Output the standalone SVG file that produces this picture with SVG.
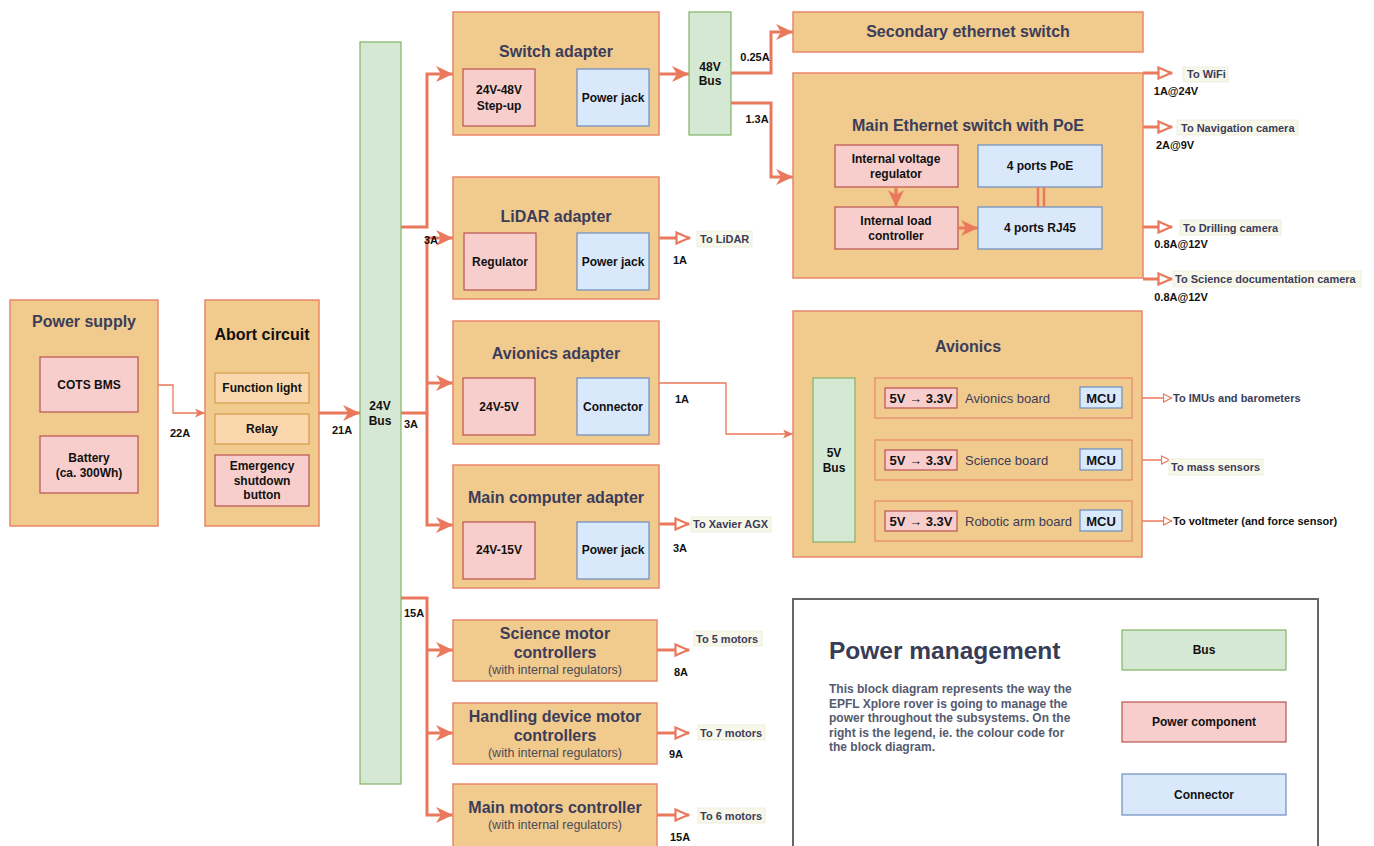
<svg xmlns="http://www.w3.org/2000/svg" width="1374" height="846" viewBox="0 0 1374 846">
<defs>
<style>
text{font-family:"Liberation Sans",Arial,sans-serif;}
.blk{fill:#F1CA8D;stroke:#E9876B;stroke-width:1.5;}
.pink{fill:#F8CECC;stroke:#B85450;stroke-width:1.2;}
.blue{fill:#DAE8FC;stroke:#6C8EBF;stroke-width:1.2;}
.green{fill:#D5E8D4;stroke:#82B366;stroke-width:1.2;}
.lite{fill:#FAD7AC;stroke:#D79B4C;stroke-width:1.2;}
.brd{fill:none;stroke:#E9876B;stroke-width:1.2;}
.t{font-size:16px;font-weight:bold;fill:#3B3D5A;text-anchor:middle;dominant-baseline:central;}
.tb{font-size:16px;font-weight:bold;fill:#111;text-anchor:middle;dominant-baseline:central;}
.c{font-size:12px;font-weight:bold;fill:#111;text-anchor:middle;dominant-baseline:central;}
.v{font-size:13px;font-weight:bold;fill:#111;text-anchor:middle;dominant-baseline:central;}
.s{font-size:12.5px;fill:#4A4A5A;text-anchor:middle;dominant-baseline:central;}
.l{font-size:11px;font-weight:bold;fill:#111;text-anchor:middle;dominant-baseline:central;}
.o{font-size:11px;font-weight:bold;fill:#3B3D5A;dominant-baseline:central;}
.bl{font-size:13px;fill:#3B3D5A;dominant-baseline:central;}
.lb{fill:#F8F8EA;stroke:#E4E4D4;stroke-width:0.6;}
.thick{fill:none;stroke:#E9785C;stroke-width:3;}
.thin{fill:none;stroke:#E9785C;stroke-width:1.3;}
</style>
<marker id="ah" markerUnits="userSpaceOnUse" markerWidth="18" markerHeight="16" refX="17" refY="8" orient="auto"><path d="M0,0 L17,8 L0,16 L5,8 Z" fill="#E9785C"/></marker>
<marker id="as" markerUnits="userSpaceOnUse" markerWidth="10" markerHeight="9" refX="10" refY="4.5" orient="auto"><path d="M0,0 L10,4.5 L0,9 L2.5,4.5 Z" fill="#E9785C"/></marker>
<marker id="ao" markerUnits="userSpaceOnUse" markerWidth="16" markerHeight="14" refX="15" refY="7" orient="auto"><path d="M1.5,1.5 L14,7 L1.5,12.5 Z" fill="#fff" stroke="#E9785C" stroke-width="2.2"/></marker>
<marker id="aos" markerUnits="userSpaceOnUse" markerWidth="10" markerHeight="10" refX="9.5" refY="5" orient="auto"><path d="M1,1 L9,5 L1,9 Z" fill="#fff" stroke="#E9785C" stroke-width="1.2"/></marker>
</defs>
<rect width="1374" height="846" fill="#fff"/>

<g id="connectors">
<path class="thin" d="M40,464 H20 V385 H40" marker-end="url(#as)"/>
<path class="thin" d="M138,385 H173 V413 H205" marker-end="url(#as)"/>
<path class="thick" d="M319,413 H360" marker-end="url(#ah)"/>
<path class="thick" d="M401,227 H427 V74 H453" marker-end="url(#ah)"/>
<path class="thick" d="M401,413 H427 V238 H453" marker-end="url(#ah)"/>
<path class="thick" d="M427,383 H453" marker-end="url(#ah)"/>
<path class="thick" d="M427,413 V525 H453" marker-end="url(#ah)"/>
<path class="thick" d="M401,598 H427 V815 H453" marker-end="url(#ah)"/>
<path class="thick" d="M427,650 H453" marker-end="url(#ah)"/>
<path class="thick" d="M427,733 H453" marker-end="url(#ah)"/>
<path class="thin" d="M535,98 H577" marker-end="url(#as)"/>
<path class="thin" d="M536,262 H577" marker-end="url(#as)"/>
<path class="thin" d="M535,407 H577" marker-end="url(#as)"/>
<path class="thin" d="M535,550 H577" marker-end="url(#as)"/>
<path class="thick" d="M659,74 H689" marker-end="url(#ah)"/>
<path class="thick" d="M731,73 H771 V32 H793" marker-end="url(#ah)"/>
<path class="thick" d="M731,103 H771 V177 H793" marker-end="url(#ah)"/>
<path class="thin" d="M659,383 H726 V434 H793" marker-end="url(#as)"/>
<path class="thick" d="M659,238 H690" marker-end="url(#ao)"/>
<path class="thick" d="M659,524 H689" marker-end="url(#ao)"/>
<path class="thick" d="M657,650 H689" marker-end="url(#ao)"/>
<path class="thick" d="M657,733 H689" marker-end="url(#ao)"/>
<path class="thick" d="M657,815 H689" marker-end="url(#ao)"/>
<path class="thick" d="M1143,73 H1172" marker-end="url(#ao)"/>
<path class="thick" d="M1143,127 H1172" marker-end="url(#ao)"/>
<path class="thick" d="M1143,227 H1172" marker-end="url(#ao)"/>
<path class="thick" d="M1143,279 H1172" marker-end="url(#ao)"/>
<path class="thin" d="M1132,398 H1172" marker-end="url(#aos)"/>
<path class="thin" d="M1132,460 H1170" marker-end="url(#aos)"/>
<path class="thin" d="M1132,521 H1172" marker-end="url(#aos)"/>
<path class="thin" d="M855,427 H864 V398 H875" marker-end="url(#as)"/>
<path class="thin" d="M855,491 H864 V460 H875" marker-end="url(#as)"/>
<path class="thin" d="M864,491 V521 H875" marker-end="url(#as)"/>
</g>

<g id="power-supply">
<rect class="blk" x="10" y="300" width="148" height="226"/>
<text class="t" x="84" y="321">Power supply</text>
<rect class="pink" x="40" y="357" width="98" height="55"/>
<text class="c" x="89" y="385">COTS BMS</text>
<rect class="pink" x="40" y="436" width="98" height="57"/>
<text class="c" x="89" y="458">Battery</text>
<text class="c" x="89" y="473">(ca. 300Wh)</text>
</g>

<g id="abort-circuit">
<rect class="blk" x="205" y="300" width="114" height="226"/>
<text class="tb" x="262" y="334">Abort circuit</text>
<rect class="lite" x="215" y="373" width="94" height="30"/>
<text class="c" x="262" y="388">Function light</text>
<rect class="lite" x="215" y="414" width="94" height="30"/>
<text class="c" x="262" y="429">Relay</text>
<rect class="pink" x="215" y="455" width="94" height="51"/>
<text class="c" x="262" y="466">Emergency</text>
<text class="c" x="262" y="481">shutdown</text>
<text class="c" x="262" y="495">button</text>
</g>

<g id="bus24">
<rect class="green" x="360" y="42" width="41" height="742"/>
<text class="c" x="380" y="406">24V</text>
<text class="c" x="380" y="421">Bus</text>
</g>

<g id="switch-adapter">
<rect class="blk" x="453" y="12" width="206" height="123"/>
<text class="t" x="556" y="51">Switch adapter</text>
<rect class="pink" x="463" y="69" width="72" height="57"/>
<text class="c" x="499" y="90">24V-48V</text>
<text class="c" x="499" y="106">Step-up</text>
<rect class="blue" x="577" y="69" width="72" height="57"/>
<text class="c" x="613" y="98">Power jack</text>
</g>

<g id="lidar-adapter">
<rect class="blk" x="453" y="177" width="206" height="122"/>
<text class="t" x="556" y="216">LiDAR adapter</text>
<rect class="pink" x="464" y="233" width="72" height="57"/>
<text class="c" x="500" y="262">Regulator</text>
<rect class="blue" x="577" y="233" width="72" height="57"/>
<text class="c" x="613" y="262">Power jack</text>
</g>

<g id="avionics-adapter">
<rect class="blk" x="453" y="321" width="206" height="123"/>
<text class="t" x="556" y="353">Avionics adapter</text>
<rect class="pink" x="463" y="378" width="72" height="57"/>
<text class="c" x="499" y="407">24V-5V</text>
<rect class="blue" x="577" y="378" width="72" height="57"/>
<text class="c" x="613" y="407">Connector</text>
</g>

<g id="main-computer-adapter">
<rect class="blk" x="453" y="465" width="206" height="123"/>
<text class="t" x="556" y="497">Main computer adapter</text>
<rect class="pink" x="463" y="522" width="72" height="57"/>
<text class="c" x="499" y="550">24V-15V</text>
<rect class="blue" x="577" y="522" width="72" height="57"/>
<text class="c" x="613" y="550">Power jack</text>
</g>

<g id="science-motors">
<rect class="blk" x="453" y="620" width="204" height="61"/>
<text class="t" x="555" y="633">Science motor</text>
<text class="t" x="555" y="652">controllers</text>
<text class="s" x="555" y="670">(with internal regulators)</text>
</g>

<g id="handling-motors">
<rect class="blk" x="453" y="703" width="204" height="61"/>
<text class="t" x="555" y="716">Handling device motor</text>
<text class="t" x="555" y="735">controllers</text>
<text class="s" x="555" y="753">(with internal regulators)</text>
</g>

<g id="main-motors">
<rect class="blk" x="453" y="784" width="204" height="64"/>
<text class="t" x="555" y="807">Main motors controller</text>
<text class="s" x="555" y="825">(with internal regulators)</text>
</g>

<g id="bus48">
<rect class="green" x="689" y="12" width="42" height="123"/>
<text class="c" x="710" y="67">48V</text>
<text class="c" x="710" y="81">Bus</text>
</g>

<g id="secondary-switch">
<rect class="blk" x="793" y="12" width="350" height="40"/>
<text class="t" x="968" y="31">Secondary ethernet switch</text>
</g>

<g id="main-switch">
<rect class="blk" x="793" y="73" width="350" height="205"/>
<text class="t" x="968" y="125">Main Ethernet switch with PoE</text>
<rect class="pink" x="835" y="145" width="123" height="42"/>
<text class="c" x="896" y="159">Internal voltage</text>
<text class="c" x="896" y="174">regulator</text>
<rect class="pink" x="835" y="207" width="123" height="42"/>
<text class="c" x="896" y="221">Internal load</text>
<text class="c" x="896" y="236">controller</text>
<rect class="blue" x="978" y="145" width="124" height="42"/>
<text class="c" x="1040" y="166">4 ports PoE</text>
<rect class="blue" x="978" y="207" width="124" height="42"/>
<text class="c" x="1040" y="228">4 ports RJ45</text>
<path class="thick" d="M896,187 V207" marker-end="url(#ah)"/>
<path class="thick" d="M958,228 H978" marker-end="url(#ah)"/>
<path d="M1038,187 V207 M1044,187 V207" stroke="#E9785C" stroke-width="2.5" fill="none"/>
</g>

<g id="avionics">
<rect class="blk" x="793" y="311" width="349" height="246"/>
<text class="t" x="968" y="346">Avionics</text>
<rect class="green" x="813" y="378" width="42" height="164"/>
<text class="c" x="834" y="453">5V</text>
<text class="c" x="834" y="468">Bus</text>
<rect class="brd" x="875" y="378" width="257" height="40"/>
<rect class="pink" x="885" y="388" width="72" height="20"/>
<text class="v" x="921" y="398">5V → 3.3V</text>
<text class="bl" x="965" y="398">Avionics board</text>
<rect class="blue" x="1080" y="387" width="42" height="21"/>
<text class="v" x="1101" y="398">MCU</text>
<rect class="brd" x="875" y="440" width="257" height="40"/>
<rect class="pink" x="885" y="450" width="72" height="20"/>
<text class="v" x="921" y="460">5V → 3.3V</text>
<text class="bl" x="965" y="460">Science board</text>
<rect class="blue" x="1080" y="449" width="42" height="21"/>
<text class="v" x="1101" y="460">MCU</text>
<rect class="brd" x="875" y="501" width="257" height="40"/>
<rect class="pink" x="885" y="511" width="72" height="20"/>
<text class="v" x="921" y="521">5V → 3.3V</text>
<text class="bl" x="965" y="521">Robotic arm board</text>
<rect class="blue" x="1080" y="510" width="42" height="21"/>
<text class="v" x="1101" y="521">MCU</text>
</g>

<g id="labels">
<text class="l" x="180" y="433">22A</text>
<text class="l" x="342" y="430">21A</text>
<text class="l" x="411" y="424">3A</text>
<text class="l" x="431" y="240">3A</text>
<text class="l" x="414" y="613">15A</text>
<text class="l" x="755" y="57">0.25A</text>
<text class="l" x="757" y="119">1.3A</text>
<text class="l" x="682" y="399">1A</text>
<text class="l" x="680" y="260">1A</text>
<text class="l" x="680" y="548">3A</text>
<text class="l" x="681" y="672">8A</text>
<text class="l" x="676" y="754">9A</text>
<text class="l" x="680" y="837">15A</text>
<text class="l" x="1176" y="91">1A@24V</text>
<text class="l" x="1175" y="145">2A@9V</text>
<text class="l" x="1181" y="244">0.8A@12V</text>
<text class="l" x="1181" y="297">0.8A@12V</text>
<rect class="lb" x="697" y="231" width="55" height="16"/>
<text class="o" x="700" y="239">To LiDAR</text>
<rect class="lb" x="691" y="517" width="80" height="15"/>
<text class="o" x="693" y="524">To Xavier AGX</text>
<rect class="lb" x="694" y="631" width="68" height="15"/>
<text class="o" x="696" y="639">To 5 motors</text>
<rect class="lb" x="698" y="725" width="67" height="15"/>
<text class="o" x="700" y="733">To 7 motors</text>
<rect class="lb" x="698" y="808" width="67" height="15"/>
<text class="o" x="700" y="816">To 6 motors</text>
<rect class="lb" x="1183" y="67" width="45" height="15"/>
<text class="o" x="1187" y="74">To WiFi</text>
<rect class="lb" x="1177" y="120" width="121" height="15"/>
<text class="o" x="1181" y="128">To Navigation camera</text>
<rect class="lb" x="1180" y="220" width="101" height="15"/>
<text class="o" x="1183" y="228">To Drilling camera</text>
<rect class="lb" x="1173" y="271" width="188" height="16"/>
<text class="o" x="1175" y="279">To Science documentation camera</text>
<text class="o" x="1173" y="398">To IMUs and barometers</text>
<rect class="lb" x="1169" y="459" width="94" height="16"/>
<text class="o" x="1171" y="467">To mass sensors</text>
<text class="o" x="1173" y="521" style="fill:#111">To voltmeter (and force sensor)</text>
</g>

<g id="legend">
<rect x="793" y="599" width="525" height="250" fill="#fff" stroke="#666" stroke-width="2"/>
<text x="829" y="650" style="font-size:24.5px;font-weight:bold;fill:#393C56;dominant-baseline:central">Power management</text>
<g style="font-size:12px;font-weight:bold;fill:#555A6E">
<text x="829" y="689" dominant-baseline="central">This block diagram represents the way the</text>
<text x="829" y="704" dominant-baseline="central">EPFL Xplore rover is going to manage the</text>
<text x="829" y="718" dominant-baseline="central">power throughout the subsystems. On the</text>
<text x="829" y="733" dominant-baseline="central">right is the legend, ie. the colour code for</text>
<text x="829" y="747" dominant-baseline="central">the block diagram.</text>
</g>
<rect class="green" x="1122" y="630" width="164" height="40"/>
<text class="c" x="1204" y="650">Bus</text>
<rect class="pink" x="1122" y="702" width="164" height="40"/>
<text class="c" x="1204" y="722">Power component</text>
<rect class="blue" x="1122" y="774" width="164" height="41"/>
<text class="c" x="1204" y="795">Connector</text>
</g>
</svg>
